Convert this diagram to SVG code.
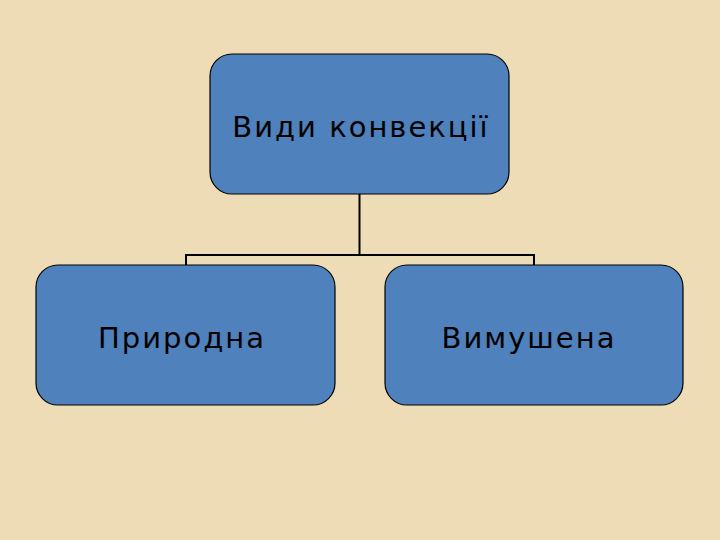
<svg xmlns="http://www.w3.org/2000/svg" width="720" height="540" viewBox="0 0 720 540">
<style>
.node{fill:#4F81BD;stroke:#000;stroke-width:1.2}
.lbl{font-family:"DejaVu Sans",sans-serif;font-size:29px;fill:#000;text-anchor:middle;letter-spacing:2px}
.conn{fill:none;stroke:#000;stroke-width:2}
</style>
<rect width="720" height="540" fill="#EEDCB6"/>
<g id="connectors">
<path class="conn" d="M359.5 194V255M186 265V255H534V265"/>
</g>
<g id="node-top">
<rect class="node" x="210" y="54" width="299" height="140" rx="22"/>
<text class="lbl" x="361" y="137">Види конвекції</text>
</g>
<g id="node-left">
<rect class="node" x="36" y="265" width="299" height="140" rx="22"/>
<text class="lbl" x="182" y="348">Природна</text>
</g>
<g id="node-right">
<rect class="node" x="385" y="265" width="298" height="140" rx="22"/>
<text class="lbl" x="529" y="348">Вимушена</text>
</g>
</svg>
